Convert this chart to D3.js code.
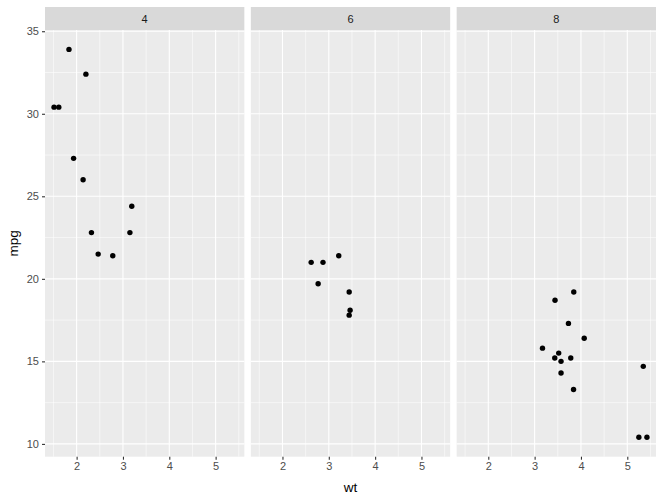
<!DOCTYPE html>
<html>
<head>
<meta charset="utf-8">
<script src="https://d3js.org/d3.v7.min.js"></script>
<style>
  body { margin: 0; background: #fff; }
  text { font-family: Arial, "Liberation Sans", sans-serif; }
</style>
</head>
<body>
<script>
// mtcars: weight (1000 lbs), mpg, cylinders
var wt  = [2.620, 2.875, 2.320, 3.215, 3.440, 3.460, 3.570, 3.190, 3.150, 3.440, 3.440, 4.070, 3.730, 3.780, 5.250, 5.424, 5.345, 2.200, 1.615, 1.835, 2.465, 3.520, 3.435, 3.840, 3.845, 1.935, 2.140, 1.513, 3.170, 2.770, 3.570, 2.780];
var mpg = [21.0, 21.0, 22.8, 21.4, 18.7, 18.1, 14.3, 24.4, 22.8, 19.2, 17.8, 16.4, 17.3, 15.2, 10.4, 10.4, 14.7, 32.4, 30.4, 33.9, 21.5, 15.5, 15.2, 13.3, 19.2, 27.3, 26.0, 30.4, 15.8, 19.7, 15.0, 21.4];
var cyl = [6, 6, 4, 6, 8, 6, 8, 4, 4, 6, 6, 8, 8, 8, 8, 8, 8, 4, 4, 4, 4, 8, 8, 8, 8, 4, 4, 4, 8, 6, 8, 4];
var facets = [4, 6, 8];
var xTicks = [2, 3, 4, 5];
var yTicks = [10, 15, 20, 25, 30, 35];

var W = 664, H = 502;
var mLeft = 45, mRight = 656, mTop = 7, stripH = 23, mBottom = 456.7, gap = 6.5;
var panelW = (mRight - mLeft - gap * 2) / 3;

var data = wt.map(function(d, i) { return {wt: d, mpg: mpg[i], cyl: cyl[i]}; });

function expand(ext) {
  var p = (ext[1] - ext[0]) * 0.05;
  return [ext[0] - p, ext[1] + p];
}

var x = d3.scaleLinear().domain(expand(d3.extent(wt))).range([0, panelW]);
var y = d3.scaleLinear().domain(expand(d3.extent(mpg))).range([mBottom, mTop + stripH]);

var svg = d3.select("body").append("svg")
  .attr("width", W).attr("height", H);

var xMinor = [1.5, 2.5, 3.5, 4.5, 5.5];
var yMinor = [12.5, 17.5, 22.5, 27.5, 32.5];

facets.forEach(function(f, k) {
  var g = svg.append("g").attr("transform", "translate(" + (mLeft + k * (panelW + gap)) + ",0)");

  // strip
  g.append("rect").attr("x", 0).attr("y", mTop).attr("width", panelW).attr("height", stripH).attr("fill", "#D9D9D9");
  g.append("text").attr("x", panelW / 2).attr("y", mTop + stripH / 2 + 4)
    .attr("text-anchor", "middle").attr("font-size", 11).attr("fill", "#1A1A1A").text(f);

  // panel
  g.append("rect").attr("x", 0).attr("y", mTop + stripH).attr("width", panelW).attr("height", mBottom - mTop - stripH).attr("fill", "#EBEBEB");

  g.selectAll(".xminor").data(xMinor).enter().append("line")
    .attr("x1", x).attr("x2", x).attr("y1", mTop + stripH).attr("y2", mBottom)
    .attr("stroke", "#fff").attr("stroke-width", 0.55);
  g.selectAll(".yminor").data(yMinor).enter().append("line")
    .attr("x1", 0).attr("x2", panelW).attr("y1", y).attr("y2", y)
    .attr("stroke", "#fff").attr("stroke-width", 0.55);
  g.selectAll(".xmajor").data(xTicks).enter().append("line")
    .attr("x1", x).attr("x2", x).attr("y1", mTop + stripH).attr("y2", mBottom)
    .attr("stroke", "#fff").attr("stroke-width", 1.1);
  g.selectAll(".ymajor").data(yTicks).enter().append("line")
    .attr("x1", 0).attr("x2", panelW).attr("y1", y).attr("y2", y)
    .attr("stroke", "#fff").attr("stroke-width", 1.1);

  // points
  g.selectAll("circle").data(data.filter(function(d) { return d.cyl === f; })).enter().append("circle")
    .attr("cx", function(d) { return x(d.wt); })
    .attr("cy", function(d) { return y(d.mpg); })
    .attr("r", 2.7).attr("fill", "#000");

  // x axis
  var xa = g.append("g").attr("transform", "translate(0," + mBottom + ")")
    .call(d3.axisBottom(x).tickValues(xTicks).tickSize(3).tickPadding(3).tickFormat(d3.format("d")));
  xa.select(".domain").remove();
  xa.selectAll("line").attr("stroke", "#333").attr("stroke-width", 1.1);
  xa.selectAll("text").attr("fill", "#4D4D4D").attr("font-size", 11).attr("font-family", "Arial, 'Liberation Sans', sans-serif");

  if (k === 0) {
    var ya = g.append("g")
      .call(d3.axisLeft(y).tickValues(yTicks).tickSize(3).tickPadding(3).tickFormat(d3.format("d")));
    ya.select(".domain").remove();
    ya.selectAll("line").attr("stroke", "#333").attr("stroke-width", 1.1);
    ya.selectAll("text").attr("fill", "#4D4D4D").attr("font-size", 11).attr("font-family", "Arial, 'Liberation Sans', sans-serif");
  }
});

svg.append("text").attr("x", (mLeft + mRight) / 2).attr("y", 492)
  .attr("text-anchor", "middle").attr("font-size", 13.5).attr("fill", "#000").text("wt");
svg.append("text").attr("transform", "translate(18," + ((mTop + stripH + mBottom) / 2) + ") rotate(-90)")
  .attr("text-anchor", "middle").attr("font-size", 13.5).attr("fill", "#000").text("mpg");
</script>
</body>
</html>
